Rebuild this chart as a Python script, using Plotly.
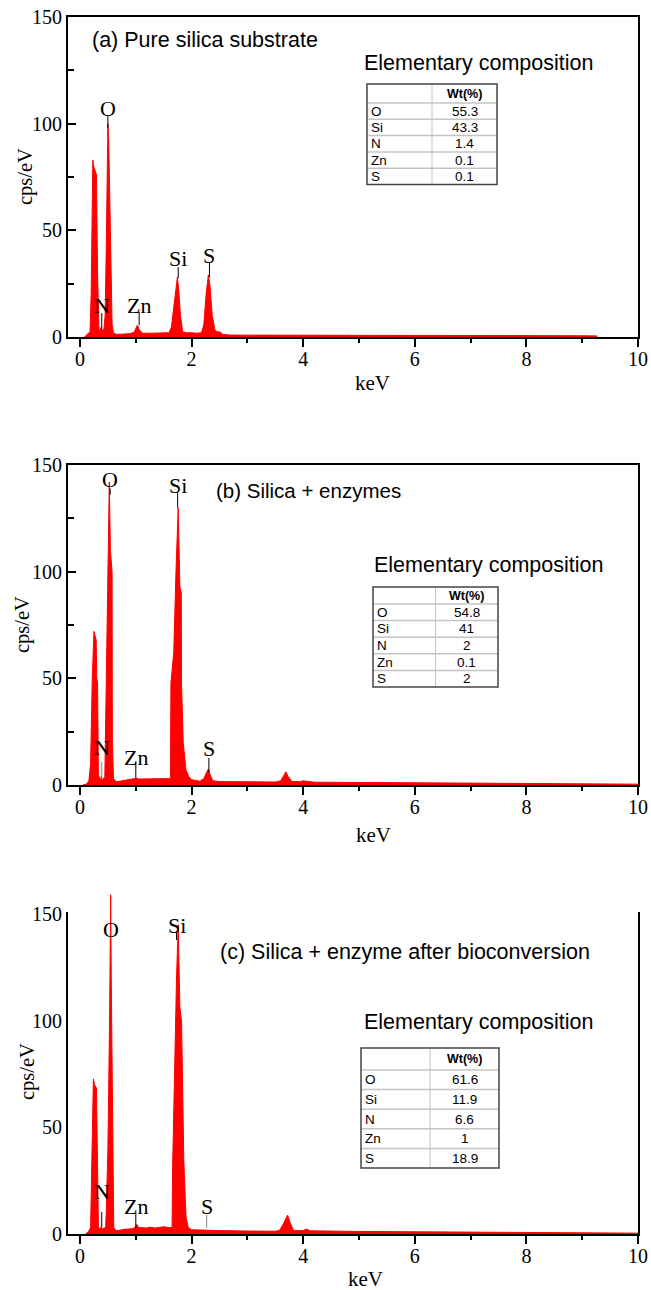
import plotly.graph_objects as go

# ---------------- data ----------------
energy_a = [0.08, 0.14, 0.18, 0.20, 0.23, 0.245, 0.295, 0.315, 0.34, 0.36, 0.375, 0.385, 0.40, 0.43,
            0.45, 0.47, 0.485, 0.50, 0.515, 0.535, 0.555, 0.575, 0.60, 0.65, 0.75, 0.90, 0.97,
            1.00, 1.03, 1.06, 1.12, 1.30, 1.50, 1.60, 1.64, 1.68, 1.72, 1.745, 1.77, 1.80, 1.84,
            1.90, 2.00, 2.10, 2.18, 2.22, 2.26, 2.30, 2.33, 2.37, 2.42, 2.46, 2.52, 2.56, 2.70,
            3.00, 4.00, 5.00, 6.00, 7.00, 8.00, 9.00, 9.27]
cps_a = [0.0, 1.5, 2.5, 20.0, 83.0, 80.0, 76.0, 30.0, 3.5, 3.0, 4.5, 3.0, 3.0, 4.0,
         10.0, 40.0, 80.0, 100.0, 92.0, 62.0, 28.0, 6.0, 1.8, 1.3, 1.3, 1.6, 2.2,
         4.0, 5.6, 3.5, 1.8, 1.8, 1.8, 2.0, 5.0, 15.0, 25.0, 28.0, 22.0, 10.0, 2.5,
         2.0, 2.0, 1.8, 2.0, 6.0, 20.0, 29.0, 24.0, 10.0, 3.0, 2.5, 2.2, 1.2, 0.9,
         0.9, 0.9, 0.8, 0.8, 0.7, 0.7, 0.6, 0.5]

energy_b = [0.05, 0.12, 0.16, 0.19, 0.22, 0.25, 0.27, 0.29, 0.30, 0.315, 0.33, 0.35, 0.37, 0.38,
            0.39, 0.42, 0.445, 0.455, 0.49, 0.525, 0.545, 0.575, 0.58, 0.60, 0.65, 0.80, 1.00,
            1.02, 1.05, 1.30, 1.55, 1.62, 1.63, 1.68, 1.72, 1.76, 1.78, 1.79, 1.815, 1.82, 1.85,
            1.90, 1.95, 2.00, 2.15, 2.22, 2.27, 2.30, 2.33, 2.38, 2.50, 3.00, 3.50, 3.60, 3.66,
            3.69, 3.73, 3.80, 3.95, 4.00, 4.05, 4.20, 5.00, 6.00, 7.00, 8.00, 9.00, 10.00]
cps_b = [0.0, 0.5, 2.0, 10.0, 50.0, 72.0, 70.0, 68.0, 50.0, 48.0, 5.0, 3.0, 2.5, 4.0,
         2.5, 3.0, 4.0, 21.0, 80.0, 142.0, 110.0, 100.0, 21.0, 3.0, 1.5, 2.2, 2.8,
         3.2, 2.8, 2.8, 2.8, 3.0, 48.0, 62.0, 100.0, 130.0, 105.0, 93.0, 90.0, 47.0, 20.0,
         7.0, 4.0, 2.5, 1.8, 3.0, 6.0, 7.5, 5.0, 2.0, 1.6, 1.4, 1.4, 2.0, 5.0,
         6.2, 4.0, 1.6, 1.6, 2.0, 1.8, 1.3, 1.2, 1.1, 1.0, 0.8, 0.6, 0.4]

energy_c = [0.10, 0.15, 0.19, 0.215, 0.24, 0.26, 0.295, 0.31, 0.33, 0.36, 0.38, 0.39, 0.43, 0.46,
            0.47, 0.50, 0.53, 0.55, 0.56, 0.575, 0.595, 0.605, 0.65, 0.80, 0.95, 1.00, 1.02,
            1.05, 1.20, 1.25, 1.35, 1.50, 1.60, 1.65, 1.66, 1.67, 1.70, 1.73, 1.76, 1.79, 1.82,
            1.86, 1.90, 1.94, 2.00, 2.20, 2.50, 3.00, 3.50, 3.58, 3.65, 3.72, 3.77, 3.83, 4.00,
            4.06, 4.12, 5.00, 6.00, 7.00, 8.00, 9.00, 10.00]
cps_c = [0.0, 1.0, 3.0, 40.0, 72.7, 70.0, 68.4, 40.0, 3.0, 2.5, 3.5, 2.5, 3.0, 3.0,
         10.0, 40.0, 100.0, 159.0, 120.0, 70.0, 20.0, 3.0, 1.5, 2.2, 2.5, 3.5, 4.5,
         3.0, 2.8, 3.2, 2.8, 3.4, 3.0, 3.0, 32.0, 45.0, 88.0, 120.0, 145.0, 106.0, 100.0,
         35.0, 8.0, 3.0, 2.0, 1.8, 1.6, 1.4, 1.3, 1.8, 5.0, 8.9, 5.0, 1.6, 1.6,
         2.3, 1.5, 1.2, 1.1, 1.0, 0.8, 0.6, 0.4]

elements = ["O", "Si", "N", "Zn", "S"]
wt_a = ["55.3", "43.3", "1.4", "0.1", "0.1"]
wt_b = ["54.8", "41", "2", "0.1", "2"]
wt_c = ["61.6", "11.9", "6.6", "1", "18.9"]
table_header = ["", "<b>Wt(%)</b>"]

x_ticks = [0, 2, 4, 6, 8, 10]
y_ticks = [0, 50, 100, 150]

titles = ["(a) Pure silica substrate", "(b) Silica + enzymes",
          "(c) Silica + enzyme after bioconversion"]

# peak labels: element, energy of label, label height, leader top, leader bottom, leader colour
labels_a = [("O", 0.50, 107, 104, 98, "black"), ("N", 0.39, 15, 11.2, 3.3, "black"),
            ("Zn", 1.06, 15, 11.7, 5.6, "black"), ("Si", 1.76, 37, 32.8, 27.6, "black"),
            ("S", 2.32, 38.4, 34.7, 28, "black")]
labels_b = [("O", 0.54, 143, 139, 136, "black"), ("Si", 1.75, 140.6, 137, 130, "black"),
            ("N", 0.39, 17.8, 10.8, 3.8, "#888888"), ("Zn", 1.0, 12.7, 10.8, 3.3, "black"),
            ("S", 2.31, 17.3, 12.7, 6.1, "black")]
labels_c = [("O", 0.556, 142.5, None, None, "black"), ("Si", 1.73, 144.4, 141.6, 137.8, "black"),
            ("N", 0.39, 19.7, 10.3, 3.3, "black"), ("Zn", 1.0, 12.7, 9.8, 2.8, "black"),
            ("S", 2.27, 12.7, 8.9, 2.8, "#888888")]

# ---------------- layout constants (pixels of the 651x1290 picture) ----------------
W, H = 651, 1290

X_LEFT, X_RIGHT = 68, 638
panels = [(17, 337), (465, 785), (914, 1234)]
title_pos = [(90, 40), (214, 490), (218, 952)]
title_size = [21.5, 20.5, 21.5]
comp_pos = [(362, 63), (372, 565), (362, 1022)]
tables = [  # left, right, top, header height, row height
    (367, 497, 84, 19, 16.3),
    (373, 498, 587, 17, 16.6),
    (361, 499, 1048, 22, 19.6),
]
ylabel_pos = [(26, 177), (22, 625), (27, 1072)]
xlabel_pos = [(372, 383), (373, 835), (365, 1279)]

SERIF = "Liberation Serif"
SANS = "Liberation Sans"
RED = "#ff0000"


def fx(px):
    return px / W


def fy(py):
    return 1 - py / H


fig = go.Figure()

spectra = [(energy_a, cps_a), (energy_b, cps_b), (energy_c, cps_c)]
axis_ids = [("x", "y"), ("x2", "y2"), ("x4", "y4")]
for (e, c), (xa, ya) in zip(spectra, axis_ids):
    fig.add_trace(go.Scatter(x=e, y=c, xaxis=xa, yaxis=ya, mode="lines",
                             fill="tozeroy", fillcolor=RED,
                             line=dict(color=RED, width=1), showlegend=False,
                             hoverinfo="skip"))

layout = dict(width=W, height=H, autosize=False,
              margin=dict(l=0, r=0, t=0, b=0, pad=0, autoexpand=False),
              paper_bgcolor="white", plot_bgcolor="white", showlegend=False)

X_RANGE = [-0.215, 10]
Y_RANGE = [0, 150]

for i, (top, bottom) in enumerate(panels):
    n = "" if i == 0 else str(i + 1)
    layout["xaxis" + n] = dict(
        domain=[fx(X_LEFT), fx(X_RIGHT)], range=X_RANGE, anchor="y" + n, automargin=False,
        tickvals=x_ticks, ticks="outside", ticklen=8, tickwidth=1.5, tickcolor="black",
        ticklabelstandoff=-5, ticklabeloverflow="allow",
        minor=dict(dtick=1, tick0=0, ticks="outside", ticklen=4, tickwidth=1.5, tickcolor="black"),
        showline=True, linewidth=2, linecolor="black", mirror=True,
        showgrid=False, zeroline=False,
        tickfont=dict(family=SERIF, size=20, color="black"))
    layout["yaxis" + n] = dict(
        domain=[fy(bottom), fy(top)], range=Y_RANGE, anchor="x" + n, automargin=False,
        tickvals=y_ticks, ticks="inside", ticklen=8, tickwidth=1.5, tickcolor="black",
        ticklabeloverflow="allow",
        minor=dict(dtick=25, tick0=0, ticks="inside", ticklen=6, tickwidth=1.5, tickcolor="black"),
        showline=True, linewidth=2, linecolor="black", mirror=True,
        showgrid=False, zeroline=False,
        tickfont=dict(family=SERIF, size=20, color="black"))

# hidden axes for panel (c) so that the O spike can rise above the frame
top_c, bottom_c = panels[2]
Y4_TOP = 160
ext = (Y4_TOP - Y_RANGE[1]) / (Y_RANGE[1] - Y_RANGE[0]) * (bottom_c - top_c)
layout["xaxis4"] = dict(domain=[fx(X_LEFT), fx(X_RIGHT)], range=X_RANGE, anchor="y4",
                        visible=False, showgrid=False, zeroline=False, automargin=False)
layout["yaxis4"] = dict(domain=[fy(bottom_c), fy(top_c - ext)], range=[0, Y4_TOP],
                        anchor="x4", visible=False, showgrid=False, zeroline=False,
                        automargin=False)

annotations = []
shapes = []

for i in range(3):
    tx, ty = title_pos[i]
    annotations.append(dict(text=titles[i], x=fx(tx), y=fy(ty), xref="paper", yref="paper",
                            xanchor="left", yanchor="middle", showarrow=False,
                            font=dict(family=SANS, size=title_size[i], color="black")))
    cx, cy = comp_pos[i]
    annotations.append(dict(text="Elementary composition", x=fx(cx), y=fy(cy),
                            xref="paper", yref="paper", xanchor="left", yanchor="middle",
                            showarrow=False, font=dict(family=SANS, size=21.5, color="black")))
    lx, ly = ylabel_pos[i]
    annotations.append(dict(text="cps/eV", x=fx(lx), y=fy(ly), xref="paper", yref="paper",
                            textangle=-90, showarrow=False, xanchor="center", yanchor="middle",
                            font=dict(family=SERIF, size=20.5, color="black")))
    kx, ky = xlabel_pos[i]
    annotations.append(dict(text="keV", x=fx(kx), y=fy(ky), xref="paper", yref="paper",
                            showarrow=False, xanchor="center", yanchor="middle",
                            font=dict(family=SERIF, size=21, color="black")))

for i, labs in enumerate([labels_a, labels_b, labels_c]):
    n = "" if i == 0 else str(i + 1)
    for el, ex, ly, lt, lb, col in labs:
        annotations.append(dict(text=el, x=ex, y=ly, xref="x" + n, yref="y" + n,
                                showarrow=False, xanchor="center", yanchor="middle",
                                font=dict(family=SERIF, size=22, color="black")))
        if lt is not None:
            shapes.append(dict(type="line", xref="x" + n, yref="y" + n, x0=ex, x1=ex,
                               y0=lb, y1=lt, line=dict(color=col, width=1)))

# composition tables (grid + text)
GRID = "#c4c4c4"
BORDER = "#454545"
for i, wt in enumerate([wt_a, wt_b, wt_c]):
    left, right, top, hh, rh = tables[i]
    mid = (left + right) / 2
    nrow = len(elements)
    bottom = top + hh + rh * nrow
    shapes.append(dict(type="line", xref="paper", yref="paper", x0=fx(mid), x1=fx(mid),
                       y0=fy(top), y1=fy(bottom), line=dict(color=GRID, width=1)))
    for r in range(nrow):
        yline = top + hh + rh * r
        shapes.append(dict(type="line", xref="paper", yref="paper", x0=fx(left), x1=fx(right),
                           y0=fy(yline), y1=fy(yline), line=dict(color=GRID, width=1.5)))
    shapes.append(dict(type="rect", xref="paper", yref="paper",
                       x0=fx(left), x1=fx(right), y0=fy(bottom), y1=fy(top),
                       line=dict(color=BORDER, width=1.5)))
    annotations.append(dict(text=table_header[1], x=fx((mid + right) / 2), y=fy(top + hh / 2),
                            xref="paper", yref="paper", showarrow=False,
                            xanchor="center", yanchor="middle",
                            font=dict(family=SANS, size=12.5, color="black")))
    for r, (el, v) in enumerate(zip(elements, wt)):
        yc = top + hh + rh * (r + 0.5)
        annotations.append(dict(text=el, x=fx(left + 2), y=fy(yc), xref="paper", yref="paper",
                                showarrow=False, xanchor="left", yanchor="middle",
                                font=dict(family=SANS, size=13.5, color="black")))
        annotations.append(dict(text=v, x=fx((mid + right) / 2), y=fy(yc), xref="paper",
                                yref="paper", showarrow=False, xanchor="center",
                                yanchor="middle",
                                font=dict(family=SANS, size=13.5, color="black")))

layout["annotations"] = annotations
layout["shapes"] = shapes
fig.update_layout(**layout)

# remove the default page margin so the 651x1290 figure fills the window exactly
fig.write_html("out.html",
               config={"displayModeBar": False},
               post_script="document.body.style.margin='0';"
                           "document.body.style.overflow='hidden';")
